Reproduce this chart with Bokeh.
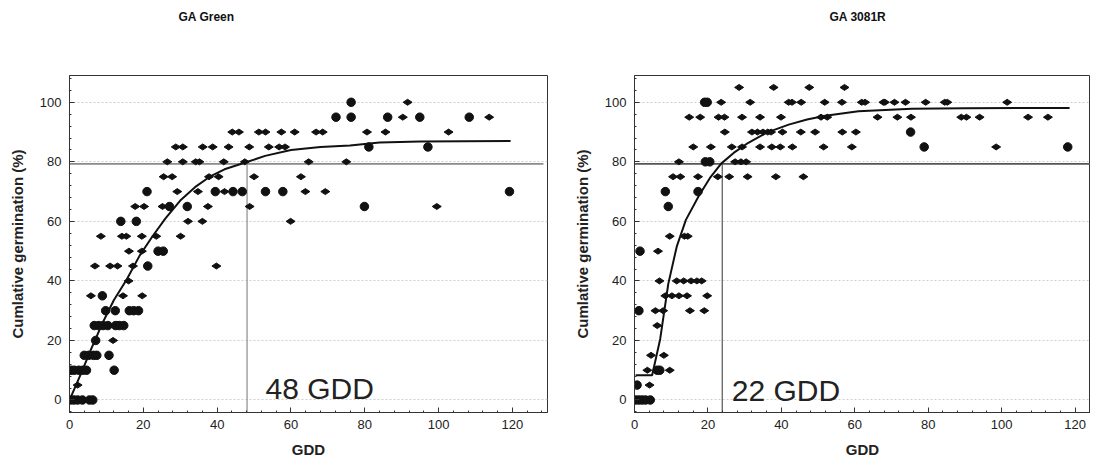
from bokeh.plotting import figure
from bokeh.layouts import row
from bokeh.models import Range1d, Label, SingleIntervalTicker, Title
from bokeh.embed import file_html
from bokeh.resources import INLINE

# ---------------- GA Green ----------------
green_title = "GA Green"
green_circle_gdd = [0.3, 1.2, 2.2, 3.5, 5.4, 6.3,
                    0.4, 1.3, 2.5, 3.6, 4.6, 12.1,
                    4.0, 5.2, 6.5, 7.4, 10.7,
                    7.1,
                    6.7, 7.9, 9.1, 10.4, 12.5, 13.5, 14.7,
                    9.8, 12.4, 16.2, 17.4, 18.7,
                    8.9,
                    21.2,
                    24.0, 25.4,
                    13.9, 18.1,
                    27.1, 31.9, 79.9,
                    21.0, 39.5, 44.3, 46.8, 53.1, 57.8, 119.2,
                    81.1, 97.1,
                    72.2, 76.3, 86.2, 94.9, 108.3,
                    76.3]
green_circle_germ = [0, 0, 0, 0, 0, 0,
                     10, 10, 10, 10, 10, 10,
                     15, 15, 15, 15, 15,
                     20,
                     25, 25, 25, 25, 25, 25, 25,
                     30, 30, 30, 30, 30,
                     35,
                     45,
                     50, 50,
                     60, 60,
                     65, 65, 65,
                     70, 70, 70, 70, 70, 70, 70,
                     85, 85,
                     95, 95, 95, 95, 95,
                     100]
green_diamond_gdd = [2.2,
                     11.8,
                     5.8, 14.5, 19.7,
                     16.0,
                     6.9, 11.0, 13.0, 17.2, 39.8,
                     16.1, 19.6,
                     8.5, 14.2, 15.4, 19.6, 23.5, 30.1,
                     32.1, 36.0, 59.9,
                     17.8, 20.2, 25.2, 37.5, 48.8, 99.5,
                     29.2, 34.8, 42.0, 63.9, 69.3,
                     25.5, 27.8, 37.8, 40.4, 50.0, 62.7,
                     26.5, 30.7, 34.2, 35.2, 41.8, 47.5, 64.8, 75.0,
                     28.8, 30.7, 36.1, 38.8, 43.1, 48.7, 54.0, 56.8, 58.4,
                     44.1, 45.9, 51.3, 53.1, 57.4, 61.0, 66.8, 68.6, 80.6, 85.6, 102.7,
                     90.3, 113.7,
                     91.6]
green_diamond_germ = [5,
                      20,
                      35, 35, 35,
                      40,
                      45, 45, 45, 45, 45,
                      50, 50,
                      55, 55, 55, 55, 55, 55,
                      60, 60, 60,
                      65, 65, 65, 65, 65, 65,
                      70, 70, 70, 70, 70,
                      75, 75, 75, 75, 75, 75,
                      80, 80, 80, 80, 80, 80, 80, 80,
                      85, 85, 85, 85, 85, 85, 85, 85, 85,
                      90, 90, 90, 90, 90, 90, 90, 90, 90, 90, 90,
                      95, 95,
                      100]
green_fit_gdd = [0, 3, 6, 9, 12, 15.5, 19, 22.5, 26, 30, 34, 38, 42, 47, 53, 60, 68, 76, 84, 95, 119.5]
green_fit_germ = [0, 8.5, 17.5, 26, 33.5, 40.5, 48.5, 55, 61, 67, 71.5, 75, 77.5, 79.5, 82, 84, 85, 85.5, 86.5, 86.8, 87]
green_t80_gdd = 48.1
green_label = "48 GDD"

# ---------------- GA 3081R ----------------
r_title = "GA 3081R"
r_circle_gdd = [0.3, 1.2, 2.1, 3.0, 4.3,
                0.7,
                6.2, 6.9,
                1.2,
                1.5,
                9.2,
                8.4, 17.3,
                19.3, 20.5,
                19.1, 19.8,
                75.2,
                78.9, 118.0]
r_circle_germ = [0, 0, 0, 0, 0,
                 5,
                 10, 10,
                 30,
                 50,
                 65,
                 70, 70,
                 80, 80,
                 100, 100,
                 90,
                 85, 85]
r_diamond_gdd = [4.1,
                 3.5, 9.6,
                 4.5, 8.0,
                 6.2,
                 5.7, 7.8, 15.1, 19.0,
                 8.4, 10.2, 12.1, 14.3, 19.8,
                 6.8, 11.5, 13.4, 15.4, 17.0, 18.3,
                 6.4,
                 9.6, 13.6, 14.5,
                 10.5, 12.5, 17.3, 22.7, 25.8, 30.8, 38.5, 46.0,
                 12.1, 27.4, 29.0, 30.4,
                 16.0, 20.8, 26.5, 29.3, 34.2, 37.4, 39.7, 43.0, 51.5, 59.2, 98.5,
                 24.6, 32.0, 33.5, 35.0, 36.3, 37.2, 40.3, 45.3, 49.2, 56.6, 60.3,
                 14.9, 17.9, 22.9, 24.5, 29.3, 34.2, 39.9, 50.8, 52.5, 66.2, 71.6, 75.3, 89.0, 90.4, 94.0, 107.2, 112.6,
                 23.6, 31.5, 42.0, 42.9, 45.4, 51.8, 56.5, 61.9, 62.8, 67.8, 68.2, 70.8, 73.8, 79.3, 84.5, 85.2, 101.5,
                 28.5, 37.9, 47.6, 57.2]
r_diamond_germ = [5,
                  10, 10,
                  15, 15,
                  25,
                  30, 30, 30, 30,
                  35, 35, 35, 35, 35,
                  40, 40, 40, 40, 40, 40,
                  50,
                  55, 55, 55,
                  75, 75, 75, 75, 75, 75, 75, 75,
                  80, 80, 80, 80,
                  85, 85, 85, 85, 85, 85, 85, 85, 85, 85, 85,
                  90, 90, 90, 90, 90, 90, 90, 90, 90, 90, 90,
                  95, 95, 95, 95, 95, 95, 95, 95, 95, 95, 95, 95, 95, 95, 95, 95, 95,
                  100, 100, 100, 100, 100, 100, 100, 100, 100, 100, 100, 100, 100, 100, 100, 100, 100,
                  105, 105, 105, 105]
r_fit_gdd = [0.3, 4.8, 5.2, 7.0, 9.2, 11.5, 14.0, 17.5, 20.5, 23.6, 27.0, 31.0, 36.0, 42.0, 47.0, 52.0, 61.0, 75.5, 90.0, 105.0, 118.5]
r_fit_germ = [8.3, 8.3, 10.5, 20.5, 39.0, 51.5, 60.5, 68.5, 74.5, 79.4, 83.0, 86.4, 89.8, 92.5, 94.2, 95.5, 97.0, 97.8, 98.0, 98.1, 98.1]
r_t80_gdd = 23.9
r_label = "22 GDD"

threshold = 79.3
y_label = "Cumlative germination (%)"
x_label = "GDD"

FONT = "Liberation Sans"
H = 460


def make(title, offset, width, mleft, mright, xmax,
         cx, cy, dx, dy, fx, fy, t80, hl_end, ltext, lx, ly, refcol):
    p = figure(width=width, height=H, x_range=Range1d(0, xmax), y_range=Range1d(-4.2, 109),
               output_backend="svg", toolbar_location=None,
               min_border_left=mleft, min_border_right=mright,
               min_border_top=75, min_border_bottom=48)
    # blank spacer between the frame and the title (pushes the title up)
    p.add_layout(Title(text=" ", standoff=29, text_font=FONT, text_font_size="12px"), "above")
    p.title.text = title
    p.title.align = "left"
    p.title.offset = offset
    p.title.standoff = 14
    p.title.text_font = FONT
    p.title.text_font_size = "12px"
    p.title.text_font_style = "bold"
    p.title.text_color = "#111"
    p.outline_line_color = "#333"
    p.outline_line_width = 1
    p.background_fill_color = "white"
    p.border_fill_color = "white"
    p.xgrid.visible = False
    p.ygrid.grid_line_color = "#cfcfcf"
    p.ygrid.grid_line_dash = "2 2"
    p.ygrid.grid_line_width = 1
    for ax in (p.xaxis[0], p.yaxis[0]):
        ax.ticker = SingleIntervalTicker(interval=20, num_minor_ticks=5)
        ax.major_tick_in = 5
        ax.major_tick_out = 0
        ax.minor_tick_in = 2
        ax.minor_tick_out = 0
        ax.axis_line_color = "#333"
        ax.major_tick_line_color = "#333"
        ax.minor_tick_line_color = "#333"
        ax.major_label_text_font = FONT
        ax.major_label_text_font_size = "13px"
        ax.major_label_text_color = "#222"
        ax.axis_label_text_font = FONT
        ax.axis_label_text_font_size = "15px"
        ax.axis_label_text_font_style = "bold"
        ax.axis_label_text_color = "#222"
    p.xaxis.axis_label = x_label
    p.yaxis.axis_label = y_label
    p.xaxis.major_label_standoff = 7
    p.xaxis.axis_label_standoff = 9
    p.yaxis.major_label_standoff = 8
    p.yaxis.axis_label_standoff = 11

    # reference lines
    p.line([0, hl_end], [threshold, threshold], line_color=refcol, line_width=1.6)
    p.line([t80, t80], [-4.2, threshold], line_color=refcol, line_width=1.2)

    p.scatter(dx, dy, marker="diamond", angle=1.5708, size=9, fill_color="#111", line_color="#111")
    p.scatter(cx, cy, marker="circle", size=8.5, fill_color="#111", line_color="#111")
    p.line(fx, fy, line_color="#111", line_width=2)

    p.add_layout(Label(x=lx, y=ly, text=ltext, text_font=FONT, text_font_size="30px",
                       text_color="#222", text_baseline="alphabetic"))
    return p


p1 = make(green_title, 109, 570, 69, 23, 129.5,
          green_circle_gdd, green_circle_germ, green_diamond_gdd, green_diamond_germ,
          green_fit_gdd, green_fit_germ, green_t80_gdd, 128.4, green_label, 53.1, 3.8, "#8a8a8a")
p2 = make(r_title, 195, 520, 63, 0, 124.2,
          r_circle_gdd, r_circle_germ, r_diamond_gdd, r_diamond_germ,
          r_fit_gdd, r_fit_germ, r_t80_gdd, 124.2, r_label, 26.5, 3.2, "#555555")

layout = row(p1, p2)
open("out.html", "w").write(file_html(layout, INLINE))
